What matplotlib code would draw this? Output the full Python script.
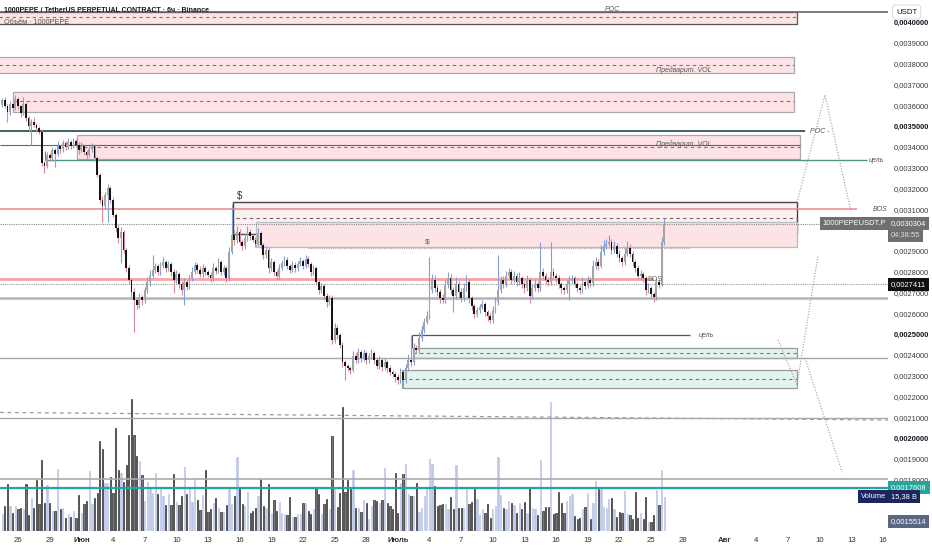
import matplotlib
matplotlib.use('Agg')
import matplotlib.pyplot as plt
import matplotlib.dates as mdates
import matplotlib.transforms as mtrans
from matplotlib.patches import Rectangle
import numpy as np
import pandas as pd

plt.rcParams['font.family'] = ['Liberation Sans', 'DejaVu Sans']

# 6h candles of 1000PEPEUSDT.P, prices in 1e-5 USDT
first_open = 360.2
close = [
    362.6, 359.7, 356.8, 360.7, 358.7, 363.1, 359.7, 356.3, 360.7, 353.9, 350.1, 352.0,
    350.6, 349.1, 347.2, 332.3, 330.9, 336.2, 334.7, 338.6, 336.6, 340.5, 339.0, 341.9,
    340.0, 342.4, 340.5, 342.9, 341.0, 338.6, 340.5, 337.6, 336.2, 339.0, 340.5, 334.7,
    326.5, 314.5, 311.6, 316.9, 320.3, 314.5, 307.3, 301.1, 296.2, 299.1, 290.5, 281.8,
    276.1, 270.3, 266.4, 264.0, 267.9, 266.4, 271.2, 275.1, 278.0, 280.8, 282.8, 279.9,
    282.8, 284.7, 281.8, 283.7, 279.9, 276.1, 278.9, 274.1, 271.2, 275.1, 272.7, 277.0,
    279.9, 283.3, 280.8, 278.9, 281.8, 279.9, 278.5, 277.0, 281.8, 280.4, 284.7, 279.9,
    281.8, 277.0, 289.5, 297.7, 295.3, 299.1, 294.3, 292.4, 296.2, 299.1, 297.2, 295.3,
    293.4, 298.6, 292.9, 288.1, 290.5, 281.8, 284.7, 279.9, 278.0, 281.8, 284.2, 285.7,
    282.8, 280.8, 283.3, 281.8, 283.7, 285.2, 282.8, 286.1, 283.7, 279.9, 281.8, 275.1,
    271.2, 273.2, 268.4, 265.5, 267.4, 247.2, 253.0, 249.6, 244.8, 236.6, 234.7, 233.7,
    232.8, 239.5, 237.6, 241.4, 238.5, 240.9, 237.6, 239.5, 240.9, 237.6, 234.7, 237.6,
    234.2, 236.6, 233.7, 231.8, 230.9, 229.4, 228.0, 231.8, 228.0, 233.7, 237.6, 236.6,
    243.4, 242.4, 248.2, 252.0, 255.9, 258.7, 271.2, 276.1, 272.2, 270.3, 267.4, 266.4,
    273.6, 277.0, 271.2, 268.4, 274.1, 270.3, 267.4, 272.2, 275.1, 267.4, 263.6, 259.7,
    261.6, 263.1, 264.5, 260.7, 258.7, 256.8, 261.6, 265.5, 271.2, 276.1, 274.1, 278.0,
    279.9, 276.1, 278.0, 275.1, 277.0, 274.1, 272.2, 276.1, 268.4, 272.2, 274.1, 272.2,
    279.9, 278.0, 276.1, 275.1, 279.9, 278.0, 277.0, 274.1, 272.2, 271.2, 274.1, 276.1,
    277.0, 274.1, 272.2, 271.2, 275.1, 273.2, 276.1, 274.6, 282.8, 284.7, 282.8, 289.5,
    292.4, 293.4, 294.3, 290.5, 292.4, 288.6, 286.6, 284.7, 288.6, 291.4, 288.6, 284.7,
    281.8, 278.0, 278.9, 277.0, 271.2, 272.2, 269.3, 267.9, 275.1, 273.6, 294.3, 303.04,
]
wick_up = [
    1.0, 1.5, 0.8, 1.2, 0.9, 1.9, 1.1, 0.7, 3.4, 1.0, 0.8, 1.3,
    2.4, 0.9, 1.0, 0.8, 1.2, 1.5, 0.9, 1.6, 1.0, 2.2, 0.8, 1.4,
    1.0, 1.8, 0.9, 1.2, 1.0, 1.4, 2.0, 0.9, 1.1, 1.6, 1.3, 0.8,
    1.0, 1.2, 2.0, 1.5, 1.8, 1.0, 1.3, 0.9, 1.2, 2.5, 1.0, 0.8,
    1.4, 1.0, 1.8, 1.2, 2.0, 1.0, 1.6, 2.2, 3.0, 7.2, 1.5, 1.0,
    1.8, 2.4, 1.2, 1.6, 1.0, 1.4, 2.0, 1.1, 1.3, 1.8, 1.0, 1.6,
    2.2, 1.4, 1.0, 1.8, 2.0, 1.2, 1.0, 1.5, 2.4, 1.2, 1.8, 1.0,
    1.6, 1.0, 2.4, 15.0, 2.2, 3.0, 1.6, 1.2, 2.4, 2.8, 1.4, 1.2,
    1.6, 2.6, 1.2, 1.0, 1.8, 1.2, 2.0, 1.0, 1.2, 1.8, 1.6, 2.0,
    1.2, 1.0, 1.8, 1.2, 1.5, 1.8, 1.2, 2.0, 1.4, 1.0, 1.6, 1.2,
    1.0, 1.4, 1.0, 1.2, 1.6, 1.4, 2.6, 1.2, 1.0, 1.4, 1.2, 1.0,
    1.2, 2.4, 1.4, 2.0, 1.2, 1.8, 1.0, 1.6, 2.0, 1.2, 1.0, 1.8,
    1.2, 2.0, 1.0, 1.4, 1.2, 1.0, 1.4, 1.8, 1.2, 2.2, 2.8, 12.0,
    2.4, 1.6, 2.8, 2.2, 1.8, 2.4, 15.9, 3.0, 2.2, 1.6, 1.4, 2.0,
    2.6, 2.9, 1.8, 1.4, 3.6, 1.6, 1.8, 2.6, 3.2, 1.4, 1.2, 1.0,
    1.6, 1.4, 1.8, 1.2, 1.0, 1.4, 2.0, 2.4, 16.8, 2.0, 1.8, 2.2,
    2.0, 1.4, 2.6, 1.6, 3.0, 1.2, 1.4, 2.4, 1.2, 1.8, 2.0, 1.4,
    14.4, 2.0, 1.6, 1.4, 14.4, 1.8, 1.2, 1.4, 1.0, 1.2, 2.0, 1.8,
    1.6, 1.2, 1.0, 1.4, 2.2, 1.2, 2.0, 1.4, 3.0, 2.2, 1.4, 3.2,
    2.8, 2.4, 3.4, 1.6, 2.4, 1.4, 2.0, 1.2, 2.8, 3.6, 1.8, 1.4,
    1.2, 1.6, 1.8, 1.2, 1.0, 2.4, 1.2, 1.0, 2.0, 1.6, 2.4, 2.9,
]
wick_dn = [
    1.2, 1.0, 4.8, 1.4, 1.0, 0.8, 1.6, 2.0, 1.0, 1.4, 2.2, 9.1,
    1.2, 1.8, 1.0, 1.4, 3.4, 1.0, 1.6, 1.2, 6.2, 1.0, 1.8, 1.2,
    1.4, 1.0, 1.6, 1.2, 1.0, 1.8, 1.2, 1.4, 2.0, 1.0, 1.2, 1.6,
    1.0, 1.2, 7.7, 1.4, 13.0, 1.6, 1.0, 1.8, 2.4, 12.0, 1.6, 2.0,
    1.8, 2.4, 15.4, 2.0, 1.6, 2.2, 1.4, 1.2, 1.8, 1.0, 1.4, 1.6,
    1.2, 1.0, 1.8, 1.4, 2.0, 6.2, 1.4, 1.8, 2.2, 7.2, 1.6, 1.2,
    1.4, 1.0, 1.6, 1.4, 1.2, 1.6, 1.0, 2.0, 1.2, 1.4, 1.0, 1.6,
    1.4, 2.0, 1.2, 1.0, 2.2, 1.6, 1.4, 2.0, 1.2, 1.6, 1.8, 1.0,
    1.4, 1.2, 1.6, 2.0, 1.4, 2.2, 1.2, 1.8, 2.0, 1.4, 1.0, 1.2,
    1.6, 1.4, 1.0, 1.8, 1.2, 1.0, 1.6, 1.2, 1.4, 1.8, 1.2, 1.6,
    2.0, 1.4, 1.8, 2.2, 1.6, 1.8, 1.4, 2.0, 1.6, 2.4, 6.7, 1.6,
    1.8, 1.2, 1.6, 1.4, 2.0, 1.2, 1.8, 1.4, 1.2, 2.0, 1.6, 1.4,
    1.8, 1.2, 2.0, 1.6, 1.4, 2.2, 1.8, 1.4, 3.8, 1.6, 1.2, 1.8,
    1.4, 1.6, 1.2, 1.4, 1.6, 1.2, 1.4, 1.6, 2.0, 1.8, 2.4, 1.6,
    1.4, 1.2, 2.0, 7.7, 1.6, 2.8, 2.0, 1.4, 1.6, 2.4, 1.8, 2.0,
    1.6, 1.4, 1.2, 2.0, 2.4, 1.6, 1.4, 1.2, 1.6, 1.4, 2.0, 1.6,
    1.2, 1.8, 1.4, 2.0, 1.6, 1.8, 2.2, 1.4, 3.4, 1.6, 1.2, 1.8,
    1.4, 1.6, 1.8, 2.0, 1.4, 1.6, 1.8, 2.0, 2.2, 1.8, 1.4, 7.7,
    1.6, 1.4, 1.8, 2.0, 1.4, 1.6, 1.2, 1.8, 1.4, 1.6, 1.8, 1.2,
    1.4, 1.2, 1.0, 1.8, 1.4, 1.6, 1.8, 2.0, 1.4, 1.2, 1.6, 1.8,
    2.0, 1.6, 1.4, 1.8, 2.2, 1.6, 1.8, 2.4, 1.4, 1.6, 0.5, 1.4,
]
# volume in billions
volume = [
    7.5, 11.3, 21.1, 11.3, 8.3, 11.3, 9.8, 10.6, 9.8, 21.4, 7.1, 14.8,
    10.6, 22.9, 12.1, 32.0, 12.8, 20.8, 12.8, 9.0, 9.0, 27.9, 10.1, 10.6,
    5.7, 7.8, 6.3, 9.0, 6.0, 16.1, 8.3, 12.1, 13.6, 27.1, 12.1, 15.1,
    17.0, 40.7, 37.0, 21.9, 21.9, 24.4, 17.3, 46.5, 27.5, 26.4, 22.3, 29.7,
    43.4, 59.6, 43.4, 33.9, 31.7, 25.2, 13.6, 22.3, 19.6, 17.0, 26.4, 16.6,
    18.9, 15.8, 11.8, 16.6, 11.8, 25.6, 13.3, 11.8, 15.8, 29.0, 16.9, 19.9,
    13.3, 23.8, 14.0, 9.4, 16.3, 27.5, 8.6, 9.8, 12.8, 14.8, 10.6, 8.6,
    8.7, 11.6, 18.9, 12.4, 15.8, 33.5, 19.6, 12.1, 11.3, 17.6, 8.3, 9.0,
    10.6, 15.8, 23.4, 11.3, 10.4, 21.4, 8.3, 13.9, 9.0, 13.3, 8.0, 7.5,
    7.2, 15.4, 6.3, 6.3, 7.5, 7.5, 12.8, 12.8, 9.0, 7.8, 9.8, 19.6,
    16.6, 7.8, 12.4, 14.6, 9.8, 43.0, 19.3, 10.9, 17.3, 56.1, 17.8, 23.1,
    18.9, 27.5, 10.6, 10.6, 8.6, 14.0, 12.8, 5.6, 11.3, 14.0, 13.6, 12.8,
    14.0, 28.4, 12.8, 11.3, 9.8, 26.4, 8.3, 21.9, 25.6, 30.2, 16.6, 15.8,
    15.8, 21.9, 8.6, 10.6, 15.8, 18.9, 32.4, 30.2, 20.4, 11.3, 11.6, 12.1,
    12.1, 9.8, 15.4, 9.8, 29.9, 10.6, 10.6, 10.4, 18.9, 12.1, 13.1, 18.9,
    14.6, 7.1, 10.1, 8.0, 12.1, 6.0, 9.8, 11.3, 33.5, 16.3, 10.6, 9.8,
    13.6, 12.6, 11.8, 8.3, 12.8, 9.8, 13.3, 8.3, 19.3, 10.6, 9.8, 7.2,
    32.0, 9.0, 10.9, 10.9, 58.5, 7.8, 8.3, 17.6, 12.8, 8.0, 13.6, 15.8,
    16.9, 6.8, 5.6, 5.7, 9.8, 10.9, 17.0, 5.6, 12.6, 22.6, 18.9, 18.9,
    10.9, 10.6, 14.3, 14.8, 9.8, 6.3, 8.6, 8.3, 18.1, 7.5, 7.1, 5.6,
    17.8, 5.7, 8.3, 5.6, 15.5, 4.2, 4.2, 7.2, 18.4, 11.6, 27.5, 15.38,
]

tick_dates = ['2024-05-26', '2024-05-29', '2024-06-01', '2024-06-04', '2024-06-07',
              '2024-06-10', '2024-06-13', '2024-06-16', '2024-06-19', '2024-06-22',
              '2024-06-25', '2024-06-28', '2024-07-01', '2024-07-04', '2024-07-07',
              '2024-07-10', '2024-07-13', '2024-07-16', '2024-07-19', '2024-07-22',
              '2024-07-25', '2024-07-28', '2024-08-01', '2024-08-04', '2024-08-07',
              '2024-08-10', '2024-08-13', '2024-08-16']
tick_labels = ['26', '29', 'Июн', '4', '7', '10', '13', '16', '19', '22', '25', '28',
               'Июль', '4', '7', '10', '13', '16', '19', '22', '25', '28',
               'Авг', '4', '7', '10', '13', '16']
month_labels = ['Июн', 'Июль', 'Авг']
# price scale labels (0,0030000 / 0,0017000 / 0,0016000 sit under the value tags)
price_ticks = [0.0040, 0.0039, 0.0038, 0.0037, 0.0036, 0.0035, 0.0034, 0.0033,
               0.0032, 0.0031, 0.0029, 0.0028, 0.0027, 0.0026, 0.0025,
               0.0024, 0.0023, 0.0022, 0.0021, 0.0020, 0.0019, 0.0018]

last_price = 0.0030304
mark_price = 0.0027411
low_price = 0.0015514
ma_price = 0.0017608


def T(s):
    return mdates.datestr2num(s)


c = np.array(close) * 1e-5
o = np.concatenate([[first_open * 1e-5], c[:-1]])
hi = np.maximum(o, c) + np.array(wick_up) * 1e-5
lo = np.minimum(o, c) - np.array(wick_dn) * 1e-5
t = mdates.date2num(pd.date_range('2024-05-24 12:00', periods=len(c), freq='6h'))
up = c >= o

W, H = 932, 550
fig = plt.figure(figsize=(W / 100, H / 100), dpi=100)
fig.patch.set_facecolor('white')
ax = fig.add_axes([0, 19 / H, 888 / W, 531 / H])
ax2 = ax.twinx()
ax.set_zorder(2)
ax2.set_zorder(1)
ax.patch.set_visible(False)

x_left, x_right = T('2024-05-24 07:00'), T('2024-08-16 11:00')
ax.set_xlim(x_left, x_right)
ax.set_ylim(0.001554, 0.0041067)
ax2.set_ylim(0, 240)
ax2.axis('off')

# volume
ax2.bar(t, volume, width=0.12, color=['#bcc7e9' if u else '#747474' for u in up],
        edgecolor=['#bcc7e9' if u else '#2e2e2e' for u in up], linewidth=0.5)

# candles
ax.vlines(t, lo, hi, colors=['#7f9fdc' if u else '#d5899a' for u in up], lw=0.8, zorder=5)
ax.bar(t, np.maximum(np.abs(c - o), 4e-7), bottom=np.minimum(o, c), width=0.17,
       color=['#a5a5a5' if u else '#151515' for u in up], linewidth=0, zorder=6)

PINK = '#fde3e6'
TEAL = '#e2f4f0'
far_left = T('2024-05-20')
box_right = T('2024-08-07 20:00')


def box(x0, x1, y0, y1, fc, ec, mid=None, lw=0.9):
    ax.add_patch(Rectangle((x0, y0), x1 - x0, y1 - y0, fc=fc, ec=ec, lw=lw, zorder=2))
    if mid is not None:
        ax.hlines(mid, x0, x1, colors='#777777', linestyles=(0, (3, 3)), lw=0.8, zorder=2)


def note(x, y, s, ha='left', size=5, color='#555555', style='italic'):
    ax.text(x, y, s, ha=ha, va='center', fontsize=size, color=color, style=style, zorder=8)


# upper zones
ax.axhline(0.0040514, color='#666666', lw=1.2, zorder=3)
note(T('2024-07-21 07:00'), 0.0040600, 'POC', ha='center')
box(far_left, box_right, 0.003991, 0.004049, PINK, '#555555', 0.004023)
box(far_left, T('2024-08-07 13:00'), 0.0037558, 0.0038327, PINK, '#aaaaaa', 0.0037942)
note(T('2024-07-28 03:00'), 0.0037680, 'Предварит. VOL', ha='center')
box(T('2024-05-25 12:45'), T('2024-08-07 13:00'), 0.0035683, 0.0036644, PINK, '#aaaaaa', 0.0036212)
ax.hlines(0.0034769, x_left, T('2024-08-08 14:00'), colors='#1d4a42', lw=1.2, zorder=3)
note(T('2024-08-09 01:00'), 0.0034769, 'POC -')
box(T('2024-05-31 14:00'), T('2024-08-08 03:00'), 0.0033423, 0.0034577, PINK, '#aaaaaa', 0.0034)
ax.hlines(0.0034096, x_left, T('2024-08-08 03:00'), colors='#666666', lw=0.8, zorder=3)
note(T('2024-07-28 03:00'), 0.0034140, 'Предварит. VOL', ha='center')
ax.hlines(0.0033375, T('2024-05-28 13:30'), T('2024-08-14 11:00'), colors='#4f9585', lw=1, zorder=3)
ax.vlines(T('2024-05-28 13:30'), 0.0033375, 0.0033800, colors='#4f9585', lw=0.8, zorder=3)
note(T('2024-08-14 16:00'), 0.0033375, 'цель')

# supply zone around current price
box(T('2024-06-15 08:30'), box_right, 0.0029803, 0.0031341, '#fdf0f1', '#444444', lw=1)
ax.hlines(0.0031019, x_left, T('2024-08-13 12:00'), colors='#e58a8f', lw=1.1, zorder=3)
note(T('2024-08-15 01:00'), 0.0031019, 'BOS')
box(T('2024-06-17 13:30'), box_right, 0.0029178, 0.0030409, PINK, '#bbbbbb')
ax.hlines(0.0030572, T('2024-06-15 16:00'), box_right, colors='#666666',
          linestyles=(0, (3, 3)), lw=0.8, zorder=3)
ax.hlines(last_price, x_left, T('2024-08-11 10:30'), colors='#8a8a8a',
          linestyles=(0, (1, 1)), lw=0.8, zorder=3)
ax.hlines(0.0029130, T('2024-06-22 12:00'), T('2024-07-28 17:00'), colors='#aaaaaa',
          linestyles=(0, (1, 1)), lw=0.8, zorder=3)
note(T('2024-07-03 18:30'), 0.0029433, '$', ha='center', size=6, style='normal')
note(T('2024-06-16 01:00'), 0.0031644, '$', ha='center', size=7, style='normal', color='#333333')

# middle levels
ax.axhline(0.0027654, xmax=(T('2024-07-25 03:00') - x_left) / (x_right - x_left),
           color='#f5a3a8', lw=2, zorder=3)
note(T('2024-07-25 09:30'), 0.0027654, 'BOS', ha='center', size=5, style='normal', color='#666666')
ax.axhline(mark_price, color='#999999', ls=(0, (1, 1)), lw=0.8, zorder=3)
ax.axhline(0.0026755, color='#b4b4b4', lw=1.8, zorder=3)
ax.hlines(0.0024962, T('2024-07-02 09:00'), T('2024-07-28 17:00'), colors='#555555', lw=0.9, zorder=3)
ax.vlines(T('2024-07-02 09:00'), 0.0024350, 0.0024962, colors='#555555', lw=0.8, zorder=3)
note(T('2024-07-29 12:00'), 0.0024962, 'цель')

# demand zones
box(T('2024-07-02 10:30'), box_right, 0.0023856, 0.0024337, TEAL, '#999999', 0.0024101)
box(T('2024-07-01 09:30'), box_right, 0.0022413, 0.0023279, TEAL, '#999999', 0.0022846)
ax.axhline(0.0023856, color='#a8a8a8', lw=1, zorder=3)

# lower levels
ax.plot([x_left, x_right], [0.0021240, 0.0020875], color='#999999', ls=(0, (3, 3)), lw=0.9, zorder=3)
ax.axhline(0.0020975, color='#a8a8a8', lw=1, zorder=3)
ax.axhline(0.0018024, color='#ababab', lw=1.2, zorder=3)
ax.axhline(ma_price, color='#26a69a', lw=1.6, zorder=3)

# projected paths
dot = dict(color='#9a9a9a', ls=(0, (1, 1.5)), lw=0.8, zorder=3)
ax.plot([box_right, T('2024-08-10 11:45'), T('2024-08-12 23:00')], [0.0031341, 0.00365, 0.0030875], **dot)
ax.plot([T('2024-08-06 01:00'), box_right, T('2024-08-09 20:00')], [0.0024721, 0.0022563, 0.0028808], **dot)
ax.plot([T('2024-08-08 14:24'), T('2024-08-12 02:30')], [0.0023856, 0.0018375], **dot)

# axes styling
for s in ax.spines.values():
    s.set_visible(False)
ax.yaxis.tick_right()
ax.set_yticks(price_ticks, labels=[f'{v:.7f}'.replace('.', ',') for v in price_ticks])
ax.tick_params(axis='y', length=0, pad=4, labelsize=5.4, labelcolor='#3a3a3a')
for lbl, v in zip(ax.get_yticklabels(), price_ticks):
    if round(v * 1e4, 3) % 5 == 0:
        lbl.set_fontweight('bold')
        lbl.set_color('#131722')
ax.set_xticks([T(d) for d in tick_dates], labels=tick_labels)
ax.tick_params(axis='x', length=0, pad=4, labelsize=5.6, labelcolor='#333333')
for lbl in ax.get_xticklabels():
    if lbl.get_text() in month_labels:
        lbl.set_fontweight('bold')

# price scale labels
rt = mtrans.blended_transform_factory(ax.transAxes, ax.transData)
xr = 1 + 3 / 888


def tag(y, s, fc, tc='white', trans=rt, x=xr, ha='left', size=5.4):
    ax.text(x, y, s, transform=trans, ha=ha, va='center', fontsize=size, color=tc, zorder=20,
            clip_on=False, bbox=dict(boxstyle='square,pad=0.4', fc=fc, ec='none'))


tag(last_price - 0.0000560, '04:38:55', '#6f6f6f', tc='#dddddd')
tag(last_price, '0,0030304', '#6f6f6f')
tag(last_price, '1000PEPEUSDT.P', '#6f6f6f', x=1 - 2 / 888, ha='right')
tag(mark_price, '0,0027411', '#111111')
tag(ma_price, '0,0017608', '#26a69a')
vt = mtrans.blended_transform_factory(ax.transAxes, ax2.transData)
tag(volume[-1], '15,38 B', '#1b2660', trans=vt)
tag(volume[-1], 'Volume', '#1b2660', trans=vt, x=1 - 2 / 888, ha='right')
tag(0.017, '0,0015514', '#5a6780', trans=ax.transAxes)
fig.text(896 / W, 1 - 12 / H, 'USDT', fontsize=5.6, color='#131722', va='center', ha='left',
         bbox=dict(boxstyle='round,pad=0.45', fc='white', ec='#d6d6d6', lw=0.6), zorder=30)

# header
fig.text(4 / W, 1 - 11 / H, '1000PEPE / TetherUS PERPETUAL CONTRACT · 6ч · Binance',
         fontsize=5.0, fontweight='bold', color='#131722', va='center')
fig.text(4 / W, 1 - 22 / H, 'Объём · 1000PEPE', fontsize=5.2, color='#555555', va='center')

fig.savefig('out.png', dpi=100, facecolor='white')
